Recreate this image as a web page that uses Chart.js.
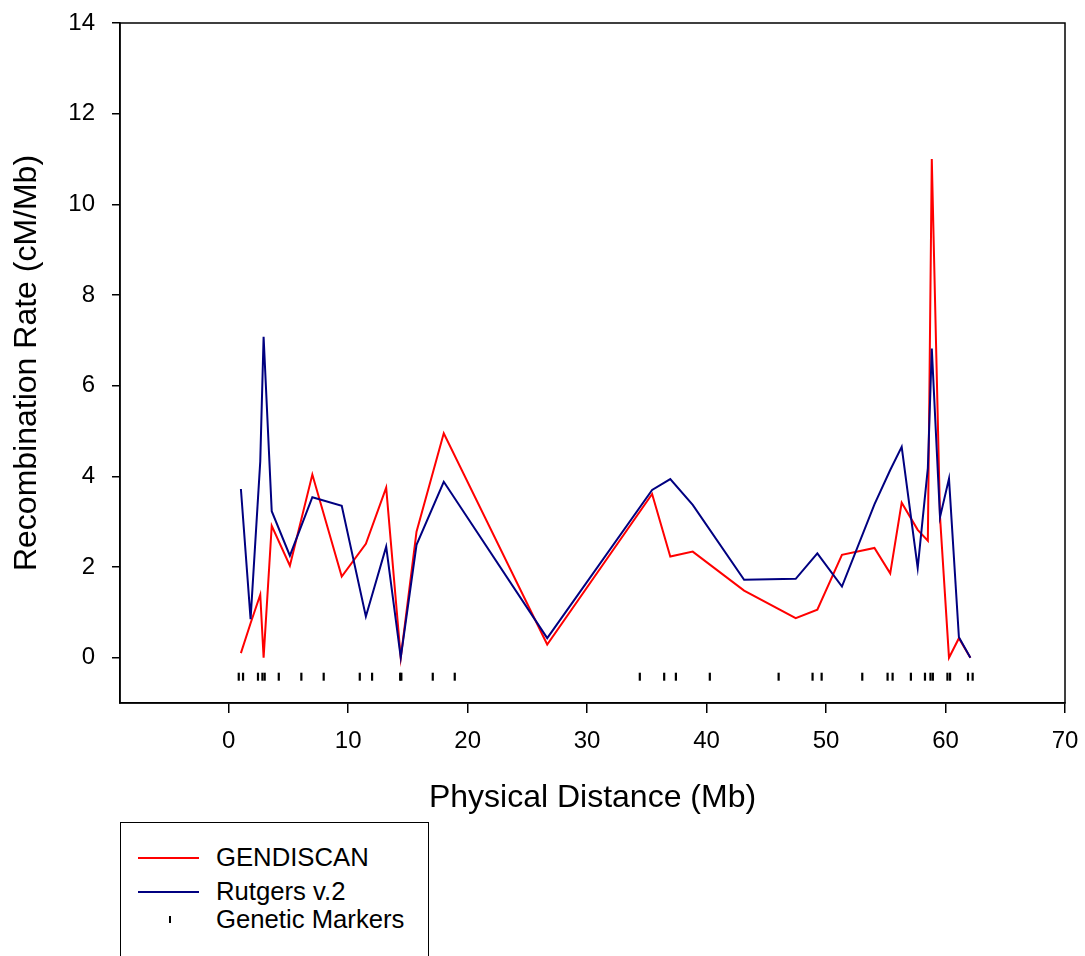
<!DOCTYPE html>
<html>
<head>
<meta charset="utf-8">
<script src="https://cdn.jsdelivr.net/npm/chart.js@4.4.0/dist/chart.umd.min.js"></script>
<style>
  body { margin: 0; overflow: hidden; background: #fff; font-family: "Liberation Sans", Arial, sans-serif; }
  #wrap { position: relative; width: 1085px; height: 956px; }
  #legend { position: absolute; left: 120px; top: 822px; width: 307px; height: 170px;
            border: 1.5px solid #000; background: #fff; }
  .item { position: absolute; left: 0; font-size: 25.7px; color: #000; line-height: 1; }
  .item .sw { position: absolute; left: 17px; width: 61px; height: 2px; }
  .item span { position: absolute; left: 95px; white-space: nowrap; }
</style>
</head>
<body>
<div id="wrap">
  <canvas id="chart" width="1085" height="956"></canvas>
  <div id="legend"></div>
</div>
<script>
// positions (Mb) of each interval midpoint
var positions = [1.02, 1.83, 2.64, 2.92, 3.60, 5.12, 7.00, 9.46, 11.48, 13.18, 14.40, 15.72, 18.00,
                 26.66, 35.44, 36.96, 38.84, 43.14, 47.46, 49.27, 51.33, 54.05, 55.37, 56.33, 57.67,
                 58.52, 58.85, 59.54, 60.29, 61.12, 62.08];
var gendiscan = [0.10, 0.76, 1.39, 0.00, 2.91, 2.03, 4.04, 1.79, 2.51, 3.75, 0.00, 2.78, 4.95,
                 0.29, 3.61, 2.23, 2.34, 1.48, 0.87, 1.06, 2.27, 2.42, 1.86, 3.42, 2.82,
                 2.58, 11.00, 3.10, 0.00, 0.43, 0.00];
var rutgers =   [3.72, 0.85, 4.33, 7.08, 3.23, 2.25, 3.54, 3.35, 0.91, 2.45, 0.00, 2.49, 3.88,
                 0.43, 3.70, 3.94, 3.37, 1.72, 1.74, 2.30, 1.57, 3.38, 4.14, 4.65, 1.98,
                 4.18, 6.82, 3.10, 3.95, 0.45, 0.00];
// genetic marker positions (Mb)
var markerPos = [0.84, 1.20, 2.45, 2.82, 3.01, 4.19, 6.08, 7.95, 10.97, 12.00, 14.35, 14.45, 17.08, 18.92,
                 34.41, 36.45, 37.43, 40.27, 46.03, 48.87, 49.63, 53.03, 55.15, 55.57, 57.10, 58.28,
                 58.74, 58.94, 60.16, 60.38, 61.88, 62.27];
var markerY = -0.42;
var xTicks = [0, 10, 20, 30, 40, 50, 60, 70];
var yTicks = [0, 2, 4, 6, 8, 10, 12, 14];

var labels = ["GENDISCAN", "Rutgers v.2", "Genetic Markers"];
var colors = ["#ff0000", "#000080", "#000000"];

function pts(ys) {
  return positions.map(function(x, i) { return {x: x, y: ys[i]}; });
}

var frame = {
  id: 'frame',
  afterDraw: function(chart) {
    var a = chart.chartArea, ctx = chart.ctx;
    ctx.save();
    ctx.strokeStyle = '#000';
    ctx.lineWidth = 1.5;
    ctx.strokeRect(a.left, a.top, a.right - a.left, a.bottom - a.top);
    ctx.restore();
  }
};

Chart.defaults.font.family = '"Liberation Sans", Arial, sans-serif';
Chart.defaults.color = '#000';

new Chart(document.getElementById('chart'), {
  type: 'scatter',
  data: {
    datasets: [
      { label: labels[1], data: pts(rutgers), showLine: true, borderColor: colors[1],
        borderWidth: 2, pointRadius: 0, tension: 0 },
      { label: labels[0], data: pts(gendiscan), showLine: true, borderColor: colors[0],
        borderWidth: 2, pointRadius: 0, tension: 0 },
      { label: labels[2], data: markerPos.map(function(x) { return {x: x, y: markerY}; }),
        showLine: false, pointStyle: 'line', rotation: 90, pointRadius: 4,
        borderColor: colors[2], borderWidth: 2.2 }
    ]
  },
  options: {
    responsive: false,
    animation: false,
    layout: { padding: { top: 23, right: 20, left: 0, bottom: 0 } },
    plugins: { legend: { display: false }, tooltip: { enabled: false } },
    scales: {
      x: {
        type: 'linear', min: -9.1, max: 70,
        afterBuildTicks: function(s) { s.ticks = xTicks.map(function(v) { return {value: v}; }); },
        afterFit: function(s) { s.height = 253; s.paddingLeft = 0; s.paddingRight = 0; },
        grid: { drawOnChartArea: false, drawTicks: true, tickLength: 10, color: '#000', lineWidth: 1.5 },
        border: { display: true, color: '#000', width: 1.5 },
        ticks: { font: { size: 24 }, padding: 14, maxRotation: 0 },
        title: { display: true, text: 'Physical Distance (Mb)', font: { size: 32 },
                 padding: { top: 0, bottom: 139 } }
      },
      y: {
        type: 'linear', min: -1, max: 14,
        afterBuildTicks: function(s) { s.ticks = yTicks.map(function(v) { return {value: v}; }); },
        afterFit: function(s) { s.width = 120; s.paddingTop = 0; s.paddingBottom = 0; },
        grid: { drawOnChartArea: false, drawTicks: true, tickLength: 8, color: '#000', lineWidth: 1.5 },
        border: { display: true, color: '#000', width: 1.5 },
        ticks: { font: { size: 24 }, padding: 17 },
        title: { display: true, text: 'Recombination Rate (cM/Mb)', font: { size: 32 },
                 padding: { top: 8, bottom: 0 } }
      }
    }
  },
  plugins: [frame]
});

// legend box
var rowsY = [35, 69, 97];
var lg = document.getElementById('legend');
labels.forEach(function(t, i) {
  var d = document.createElement('div');
  d.className = 'item';
  d.style.top = (rowsY[i] - 13) + 'px';
  var sw = document.createElement('div');
  sw.className = 'sw';
  if (i < 2) {
    sw.style.top = '12px';
    sw.style.background = colors[i];
  } else {
    sw.style.left = '48px';
    sw.style.width = '2px';
    sw.style.height = '7px';
    sw.style.top = '9px';
    sw.style.background = colors[i];
  }
  var s = document.createElement('span');
  s.textContent = t;
  d.appendChild(sw);
  d.appendChild(s);
  lg.appendChild(d);
});
</script>
</body>
</html>
